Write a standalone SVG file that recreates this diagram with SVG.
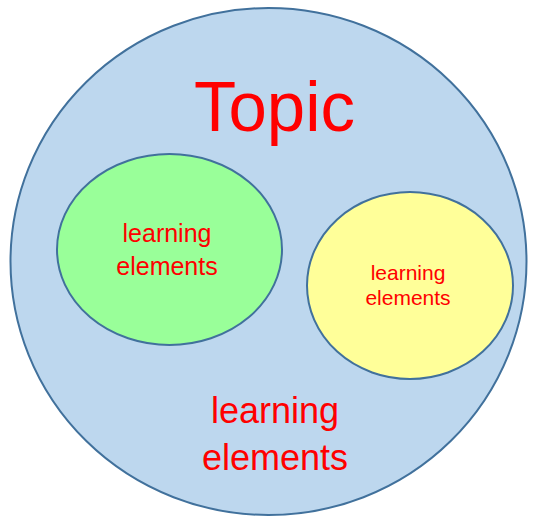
<svg xmlns="http://www.w3.org/2000/svg" width="537" height="516" viewBox="0 0 537 516">
<style>
.sh{stroke:#41719c;stroke-width:2}
.t{font-family:"Liberation Sans",Arial,sans-serif;fill:#ff0000;text-anchor:middle}
</style>
<rect width="537" height="516" fill="#ffffff"/>
<g id="topic">
<ellipse class="sh" cx="268.5" cy="261.5" rx="258" ry="253.5" fill="#bdd7ee"/>
<text class="t" x="274.5" y="131" font-size="70" textLength="161" lengthAdjust="spacingAndGlyphs">Topic</text>
<text class="t" x="275" y="423" font-size="36">learning</text>
<text class="t" x="275" y="470" font-size="36">elements</text>
</g>
<g id="green">
<ellipse class="sh" cx="169.5" cy="249.5" rx="112.5" ry="95.5" fill="#99ff99"/>
<text class="t" x="167" y="242" font-size="25">learning</text>
<text class="t" x="167" y="275" font-size="25">elements</text>
</g>
<g id="yellow">
<ellipse class="sh" cx="410" cy="285.5" rx="103" ry="93.5" fill="#ffff99"/>
<text class="t" x="408" y="280" font-size="21">learning</text>
<text class="t" x="408" y="305" font-size="21">elements</text>
</g>
<g id="connectors"/>
</svg>
